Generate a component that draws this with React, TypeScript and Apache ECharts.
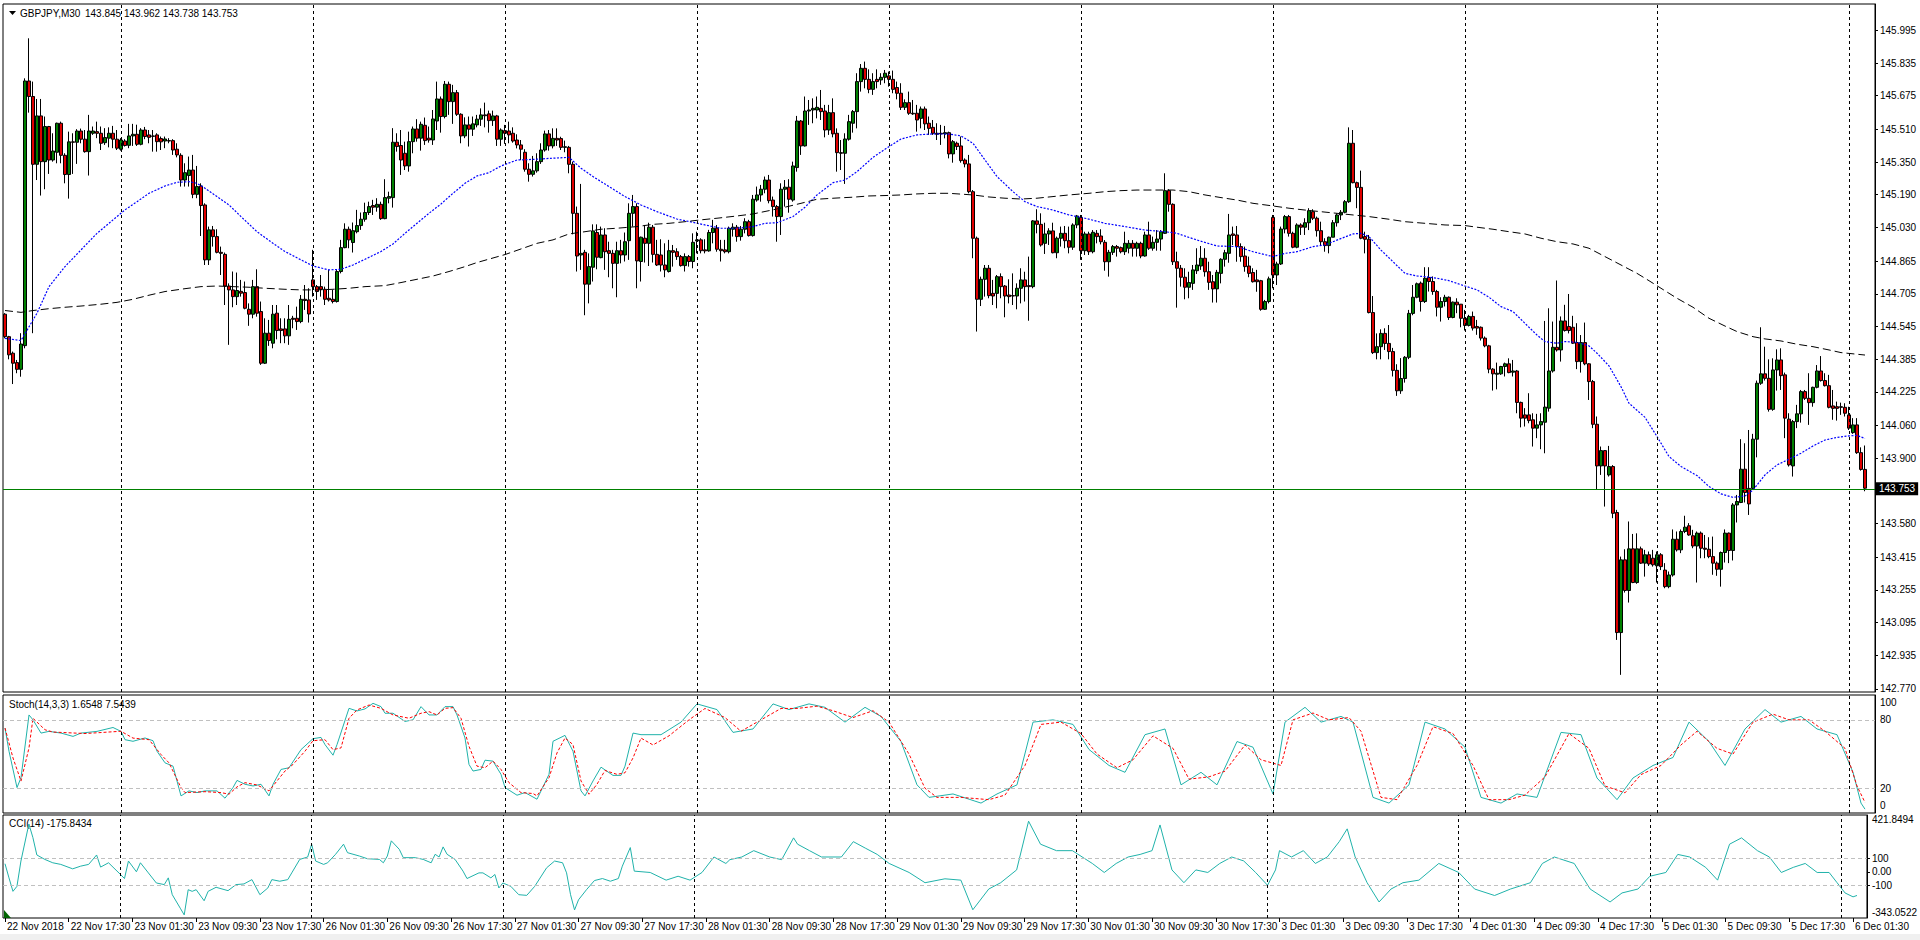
import React, { useEffect, useRef } from 'react';
import * as echarts from 'echarts';

// ---------- DATA ----------
const symbolName = 'GBPJPY,M30';
const stochName = 'Stoch(14,3,3)';
const cciName = 'CCI(14)';
const stochLast = [1.6548, 7.5439];
const cciLast = -175.8434;

// candles: [open, close, low, high]
const nov22 = [
[144.605,144.495,144.487,144.610],[144.495,144.406,144.384,144.499],[144.414,144.365,144.263,144.422],[144.368,144.335,144.316,144.381],
[144.335,144.459,144.299,144.512],[144.451,145.747,144.438,145.760],[145.747,145.671,145.592,145.956],[145.671,145.339,144.512,145.744],
[145.339,145.576,145.262,145.659],[145.576,145.352,145.186,145.659],[145.352,145.524,145.217,145.573],[145.524,145.360,145.292,145.527],
[145.360,145.404,145.352,145.491],[145.398,145.540,145.344,145.543],[145.540,145.383,145.344,145.548],[145.383,145.289,145.246,145.393],
[145.289,145.449,145.171,145.499],[145.449,145.447,145.292,145.491],[145.447,145.502,145.341,145.511],[145.502,145.462,145.442,145.514],
[145.462,145.401,145.396,145.507],[145.401,145.502,145.284,145.581],[145.491,145.502,145.483,145.524],[145.499,145.491,145.467,145.548],
[145.491,145.442,145.409,145.524],[145.445,145.470,145.434,145.516],[145.467,145.491,145.422,145.520],[145.491,145.462,145.418,145.527],
[145.462,145.418,145.409,145.507]];
const nov23 = [
[145.413,145.458,145.406,145.467],[145.453,145.431,145.426,145.462],[145.432,145.478,145.418,145.537],[145.478,145.486,145.429,145.537],
[145.486,145.437,145.429,145.533],[145.437,145.507,145.432,145.516],[145.507,145.475,145.462,145.522],[145.483,145.471,145.442,145.507],
[145.478,145.476,145.401,145.507],[145.483,145.450,145.401,145.491],[145.465,145.449,145.409,145.475],[145.453,145.463,145.418,145.475],
[145.455,145.453,145.442,145.467],[145.455,145.409,145.385,145.462],[145.413,145.385,145.373,145.442],[145.383,145.262,145.230,145.393],
[145.262,145.298,145.230,145.344],[145.284,145.311,145.230,145.377],[145.311,145.192,145.173,145.385],[145.192,145.230,145.173,145.331],
[145.233,145.137,144.988,145.246],[145.140,144.871,144.846,145.148],[144.871,145.018,144.846,145.034],[145.018,144.985,144.936,145.037],
[144.985,144.908,144.903,145.021],[144.908,144.903,144.797,144.936],[144.898,144.743,144.650,144.907],[144.743,144.724,144.455,144.756],
[144.724,144.691,144.639,144.814],[144.691,144.721,144.650,144.809],[144.717,144.708,144.691,144.773],[144.711,144.634,144.629,144.765],
[144.629,144.605,144.548,144.658],[144.605,144.740,144.585,144.773],[144.740,144.610,144.593,144.825],[144.618,144.365,144.357,144.667],
[144.365,144.512,144.361,144.585],[144.512,144.476,144.450,144.577],[144.463,144.605,144.438,144.650],[144.610,144.525,144.482,144.650],
[144.533,144.525,144.463,144.585],[144.533,144.499,144.463,144.585],[144.499,144.580,144.455,144.650],[144.585,144.580,144.536,144.597],
[144.585,144.569,144.528,144.642],[144.569,144.678,144.561,144.699],[144.678,144.672,144.626,144.748],[144.675,144.606,144.564,144.732]];
const nov26 = [
[144.773,144.740,144.691,144.920],[144.740,144.716,144.675,144.748],[144.740,144.727,144.691,144.797],[144.727,144.678,144.650,144.740],
[144.683,144.675,144.667,144.822],[144.678,144.667,144.658,144.724],[144.667,144.814,144.662,144.822],[144.814,144.931,144.805,144.969],
[144.931,145.021,144.928,145.050],[145.021,144.969,144.928,145.034],[144.956,145.014,144.907,145.054],[145.009,145.039,145.001,145.116],
[145.039,145.070,145.018,145.103],[145.070,145.103,145.058,145.151],[145.103,145.132,145.091,145.156],[145.137,145.129,145.091,145.165],
[145.129,145.143,145.107,145.173],[145.143,145.073,145.067,145.156],[145.073,145.176,145.070,145.266],[145.173,145.181,145.148,145.205],
[145.176,145.447,145.127,145.516],[145.447,145.426,145.401,145.491],[145.431,145.360,145.287,145.507],[145.393,145.331,145.311,145.450],
[145.331,145.450,145.303,145.499],[145.450,145.512,145.393,145.524],[145.512,145.467,145.450,145.560],[145.467,145.535,145.406,145.548],
[145.530,145.455,145.434,145.568],[145.467,145.458,145.445,145.524],[145.458,145.561,145.434,145.605],[145.551,145.659,145.507,145.744],
[145.659,145.573,145.494,145.671],[145.573,145.731,145.564,145.747],[145.731,145.646,145.581,145.744],[145.646,145.690,145.537,145.728],
[145.690,145.584,145.576,145.703],[145.584,145.478,145.442,145.589],[145.478,145.532,145.467,145.569],[145.532,145.511,145.426,145.573],
[145.511,145.537,145.478,145.573],[145.532,145.560,145.520,145.581],[145.560,145.581,145.527,145.613],[145.581,145.577,145.520,145.641],
[145.586,145.553,145.494,145.602],[145.553,145.576,145.527,145.602],[145.576,145.462,145.429,145.581],[145.462,145.507,145.429,145.515]];
const nov27 = [
[145.504,145.491,145.439,145.532],[145.502,145.483,145.442,145.548],[145.491,145.453,145.445,145.520],[145.458,145.434,145.417,145.486],
[145.434,145.413,145.360,145.458],[145.398,145.315,145.303,145.413],[145.315,145.290,145.254,145.344],[145.290,145.307,145.279,145.380],
[145.307,145.352,145.298,145.393],[145.352,145.409,145.341,145.442],[145.409,145.488,145.401,145.504],[145.488,145.429,145.406,145.507],
[145.429,145.466,145.417,145.515],[145.466,145.458,145.429,145.515],[145.465,145.422,145.409,145.474],[145.422,145.425,145.398,145.455],
[145.422,145.339,145.295,145.429],[145.339,145.099,144.996,145.352],[145.099,144.890,144.814,145.132],[144.895,144.903,144.822,145.243],
[144.908,144.752,144.600,144.920],[144.752,144.838,144.658,144.903],[144.835,145.013,144.765,145.045],[145.005,144.884,144.825,145.045],
[144.882,144.993,144.879,145.034],[144.993,144.911,144.822,145.026],[144.916,144.903,144.786,144.960],[144.903,144.854,144.732,144.920],
[144.854,144.916,144.688,144.960],[144.916,144.895,144.854,144.969],[144.895,144.960,144.863,145.005],[144.965,145.099,144.871,145.148],
[145.099,145.132,145.034,145.189],[145.132,144.866,144.732,145.148],[144.863,144.982,144.765,144.985],[144.977,144.952,144.858,145.042],
[144.952,145.031,144.841,145.053],[145.031,144.898,144.858,145.042],[144.898,144.846,144.841,144.969],[144.895,144.846,144.814,144.972],
[144.846,144.822,144.786,144.952],[144.814,144.916,144.809,144.969],[144.916,144.908,144.838,144.944],[144.911,144.887,144.871,144.928],
[144.887,144.843,144.838,144.895],[144.843,144.887,144.814,144.903],[144.887,144.863,144.838,144.895],[144.863,144.957,144.830,145.001]];
const nov28 = [
[144.964,144.969,144.903,145.009],[144.969,144.916,144.903,144.977],[144.920,144.915,144.903,144.972],[144.915,145.005,144.911,145.018],
[145.005,145.026,144.952,145.067],[145.026,144.923,144.911,145.042],[144.923,144.916,144.863,144.969],[144.920,144.911,144.903,144.969],
[144.911,145.026,144.903,145.034],[145.021,145.031,144.985,145.050],[145.031,144.985,144.960,145.042],[144.985,145.021,144.965,145.037],
[145.021,145.058,145.001,145.075],[145.058,144.990,144.985,145.067],[144.990,145.168,144.985,145.189],[145.164,145.189,145.156,145.230],
[145.189,145.217,145.156,145.238],[145.217,145.262,145.197,145.279],[145.262,145.161,145.148,145.287],[145.164,145.132,145.083,145.181],
[145.132,145.083,144.960,145.140],[145.083,145.217,144.993,145.246],[145.217,145.227,145.132,145.262],[145.227,145.168,145.102,145.266],
[145.164,145.331,145.156,145.352],[145.323,145.551,145.303,145.576],[145.551,145.429,145.385,145.556],[145.429,145.600,145.426,145.671],
[145.600,145.605,145.532,145.654],[145.605,145.613,145.540,145.662],[145.605,145.618,145.564,145.671],[145.613,145.597,145.556,145.703],
[145.600,145.507,145.471,145.630],[145.507,145.592,145.483,145.630],[145.592,145.488,145.471,145.662],[145.491,145.396,145.303,145.515],
[145.396,145.393,145.311,145.458],[145.393,145.463,145.243,145.491],[145.462,145.548,145.455,145.581],[145.540,145.597,145.494,145.605],
[145.597,145.744,145.515,145.785],[145.744,145.809,145.695,145.830],[145.809,145.755,145.711,145.842],[145.755,145.706,145.687,145.804],
[145.706,145.744,145.679,145.785],[145.755,145.744,145.711,145.804],[145.752,145.765,145.728,145.785],[145.765,145.785,145.736,145.801]];
const nov29 = [
[145.772,145.755,145.719,145.793],[145.755,145.706,145.687,145.798],[145.715,145.687,145.657,145.744],[145.687,145.618,145.605,145.736],
[145.618,145.641,145.605,145.657],[145.641,145.589,145.581,145.695],[145.589,145.586,145.581,145.654],[145.589,145.556,145.499,145.630],
[145.564,145.610,145.515,145.622],[145.610,145.537,145.507,145.622],[145.540,145.515,145.483,145.573],[145.520,145.491,145.483,145.556],
[145.491,145.486,145.458,145.540],[145.491,145.488,145.434,145.532],[145.488,145.494,145.466,145.527],[145.494,145.390,145.368,145.499],
[145.390,145.450,145.347,145.458],[145.442,145.426,145.409,145.450],[145.429,145.357,145.347,145.475],[145.360,145.341,145.324,145.368],
[145.341,145.205,145.197,145.385],[145.205,144.977,144.879,145.213],[144.977,144.678,144.520,144.985],[144.678,144.776,144.645,144.789],
[144.776,144.830,144.691,144.846],[144.830,144.696,144.683,144.846],[144.707,144.694,144.650,144.773],[144.707,144.789,144.634,144.797],
[144.789,144.740,144.683,144.805],[144.743,144.694,144.590,144.748],[144.699,144.691,144.658,144.776],[144.696,144.694,144.650,144.805],
[144.694,144.732,144.629,144.756],[144.732,144.773,144.658,144.830],[144.773,144.740,144.667,144.813],[144.745,144.740,144.573,144.887],
[144.740,145.062,144.732,145.066],[145.062,145.045,145.001,145.119],[145.045,144.944,144.936,145.099],[144.952,144.998,144.900,145.053],
[144.998,145.013,144.944,145.026],[145.013,144.906,144.903,145.053],[144.906,144.977,144.879,144.985],[144.977,145.001,144.936,145.034],
[145.001,144.965,144.928,145.037],[144.965,144.933,144.903,145.034],[144.933,145.042,144.920,145.050],[145.042,145.086,145.026,145.091]];
const nov30 = [
[145.079,144.916,144.871,145.091],[144.916,144.998,144.895,145.009],[144.998,144.911,144.895,145.009],[144.911,145.006,144.903,145.017],
[145.001,144.985,144.952,145.017],[144.988,144.960,144.947,145.021],[144.957,144.862,144.818,144.968],[144.862,144.908,144.789,144.920],
[144.908,144.936,144.895,144.944],[144.936,144.928,144.887,144.944],[144.931,144.911,144.903,144.936],[144.911,144.952,144.895,145.009],
[144.928,144.952,144.903,144.968],[144.952,144.928,144.887,144.968],[144.928,144.952,144.887,144.960],[144.952,144.890,144.879,144.960],
[144.890,144.993,144.887,145.009],[144.993,144.928,144.920,145.058],[144.928,144.957,144.916,144.985],[144.957,144.973,144.916,145.017],
[144.973,145.009,144.916,145.017],[145.001,145.210,144.998,145.295],[145.210,145.143,145.107,145.217],[145.143,144.862,144.846,145.148],
[144.862,144.830,144.637,144.911],[144.830,144.786,144.740,144.846],[144.786,144.737,144.678,144.830],[144.737,144.760,144.683,144.813],
[144.756,144.822,144.724,144.846],[144.818,144.846,144.802,144.928],[144.841,144.879,144.822,144.939],[144.879,144.813,144.789,144.928],
[144.813,144.761,144.724,144.862],[144.764,144.729,144.662,144.797],[144.729,144.810,144.662,144.822],[144.805,144.874,144.756,144.879],
[144.874,144.906,144.838,144.920],[144.903,144.993,144.857,145.096],[144.998,144.991,144.944,145.034],[144.993,144.936,144.862,145.037],
[144.936,144.887,144.862,144.952],[144.890,144.838,144.813,144.936],[144.841,144.805,144.786,144.887],[144.809,144.764,144.760,144.830],
[144.773,144.764,144.715,144.822],[144.769,144.629,144.622,144.773],[144.629,144.667,144.626,144.675],[144.667,144.778,144.658,144.789]];
const dec03 = [
[145.079,144.797,144.732,145.091],[144.797,144.851,144.748,144.862],[144.851,145.022,144.846,145.034],[145.022,145.083,145.001,145.091],
[145.083,145.001,144.985,145.091],[145.001,144.933,144.928,145.009],[144.933,145.042,144.928,145.050],[145.042,145.031,144.993,145.050],
[145.031,145.053,144.993,145.075],[145.053,145.112,145.017,145.124],[145.107,145.075,145.066,145.119],[145.075,145.014,144.985,145.083],
[145.014,144.960,144.939,145.058],[144.960,144.941,144.911,144.977],[144.941,144.982,144.903,144.985],[144.982,145.053,144.982,145.066],
[145.053,145.091,145.034,145.099],[145.091,145.104,145.066,145.115],[145.104,145.156,145.099,145.164],[145.156,145.442,145.150,145.520],
[145.442,145.249,145.246,145.507],[145.249,145.226,145.124,145.254],[145.226,144.977,144.972,145.308],[144.985,144.972,144.903,145.009],
[144.972,144.613,144.609,144.993],[144.613,144.417,144.410,144.694],[144.417,144.446,144.384,144.511],[144.446,144.511,144.384,144.531],
[144.511,144.462,144.430,144.536],[144.462,144.422,144.384,144.552],[144.422,144.330,144.300,144.440],[144.330,144.230,144.205,144.360],
[144.230,144.290,144.215,144.390],[144.290,144.394,144.270,144.400],[144.394,144.609,144.385,144.626],[144.609,144.688,144.600,144.748],
[144.688,144.754,144.683,144.760],[144.757,144.667,144.618,144.765],[144.667,144.781,144.660,144.835],[144.785,144.765,144.716,144.835],
[144.765,144.716,144.700,144.790],[144.716,144.639,144.594,144.724],[144.639,144.667,144.569,144.688],[144.667,144.688,144.643,144.700],
[144.688,144.589,144.577,144.692],[144.589,144.664,144.585,144.667],[144.664,144.651,144.610,144.683],[144.654,144.585,144.541,144.655]];
const dec04 = [
[144.585,144.550,144.525,144.626],[144.550,144.594,144.545,144.602],[144.594,144.537,144.525,144.618],[144.545,144.537,144.504,144.577],
[144.541,144.488,144.476,144.545],[144.488,144.450,144.443,144.496],[144.450,144.336,144.316,144.455],[144.336,144.313,144.231,144.341],
[144.311,144.316,144.237,144.368],[144.313,144.349,144.308,144.352],[144.349,144.362,144.300,144.368],[144.362,144.319,144.316,144.389],
[144.321,144.327,144.300,144.381],[144.327,144.173,144.120,144.332],[144.173,144.096,144.051,144.177],[144.112,144.096,144.055,144.145],
[144.112,144.084,144.071,144.218],[144.088,144.047,143.957,144.120],[144.047,144.063,143.998,144.117],[144.063,144.079,143.944,144.120],
[144.076,144.150,143.924,144.572],[144.145,144.327,144.128,144.634],[144.327,144.443,144.319,144.569],[144.443,144.430,144.422,144.770],
[144.430,144.572,144.373,144.594],[144.572,144.525,144.520,144.651],[144.545,144.525,144.511,144.704],[144.541,144.463,144.459,144.597],
[144.466,144.373,144.336,144.561],[144.373,144.466,144.319,144.503],[144.466,144.362,144.355,144.564],[144.362,144.275,144.185,144.365],
[144.275,144.066,144.047,144.283],[144.066,143.862,143.748,144.104],[143.862,143.937,143.818,143.957],[143.937,143.862,143.663,143.940],
[143.818,143.859,143.810,143.960],[143.859,143.630,143.606,143.866],[143.634,143.046,143.010,143.647],[143.046,143.402,142.839,143.418],
[143.402,143.252,143.242,143.454],[143.252,143.456,143.193,143.590],[143.456,143.291,143.288,143.529],[143.291,143.456,143.285,143.532],
[143.456,143.386,143.382,143.467],[143.386,143.427,143.320,143.451],[143.427,143.382,143.372,143.443],[143.410,143.378,143.369,143.451]];
const dec05 = [
[143.373,143.427,143.291,143.443],[143.427,143.369,143.352,143.435],[143.352,143.271,143.263,143.386],[143.271,143.328,143.263,143.345],
[143.328,143.503,143.320,143.551],[143.503,143.451,143.443,143.541],[143.451,143.541,143.435,143.551],[143.541,143.562,143.533,143.618],
[143.569,143.524,143.520,143.582],[143.520,143.470,143.459,143.549],[143.470,143.533,143.291,143.541],[143.533,143.459,143.410,143.541],
[143.459,143.454,143.410,143.524],[143.454,143.418,143.410,143.513],[143.418,143.386,143.329,143.516],[143.386,143.356,143.324,143.394],
[143.356,143.438,143.271,143.443],[143.438,143.533,143.389,143.551],[143.533,143.448,143.386,143.536],[143.448,143.671,143.399,143.680],
[143.671,143.688,143.585,143.720],[143.683,143.846,143.680,143.993],[143.846,143.732,143.683,143.973],[143.752,143.676,143.622,144.038],
[143.752,143.993,143.747,144.019],[143.993,144.267,143.904,144.280],[144.267,144.313,144.259,144.541],[144.313,144.291,144.280,144.446],
[144.291,144.139,144.128,144.384],[144.139,144.332,144.132,144.389],[144.332,144.381,144.231,144.433],[144.381,144.304,144.234,144.438],
[144.308,144.096,143.998,144.319],[144.091,143.867,143.859,144.120],[143.862,144.079,143.810,144.087],[144.079,144.117,144.047,144.161],
[144.117,144.226,144.074,144.234],[144.226,144.193,144.185,144.234],[144.193,144.172,144.063,144.316],[144.172,144.247,144.152,144.250],
[144.247,144.327,144.242,144.356],[144.327,144.280,144.275,144.400],[144.280,144.255,144.251,144.316],[144.255,144.149,144.144,144.308],
[144.156,144.144,144.088,144.234],[144.152,144.144,144.084,144.177],[144.152,144.149,144.112,144.172],[144.149,144.120,144.104,144.169]];
const dec06 = [
[144.112,144.047,144.038,144.152],[144.025,144.063,144.019,144.096],[144.063,143.927,143.921,144.096],[143.927,143.845,143.839,143.953],
[143.845,143.753,143.738,143.962]];

// moving averages: [bar index, value]
const maFastPts = [
[0,144.487],[4,144.476],[8,144.610],[11,144.740],[15,144.838],[19,144.920],[23,145.001],[27,145.067],[30,145.116],[33,145.156],[36,145.197],
[40,145.233],[43,145.251],[46,145.254],[48,145.246],[50,145.222],[53,145.181],[56,145.140],[59,145.083],[63,145.009],[67,144.952],[70,144.912],
[74,144.871],[77,144.841],[81,144.822],[84,144.825],[87,144.846],[90,144.874],[94,144.912],[97,144.949],[100,145.001],[103,145.050],[106,145.099],
[109,145.145],[112,145.197],[115,145.246],[118,145.282],[121,145.298],[124,145.331],[128,145.360],[133,145.364],[137,145.369],[141,145.373],
[144,145.320],[147,145.279],[151,145.230],[155,145.181],[159,145.140],[163,145.107],[168,145.071],[172,145.055],[175,145.042],[179,145.026],
[183,145.026],[187,145.034],[190,145.050],[193,145.053],[197,145.083],[200,145.129],[203,145.189],[207,145.249],[210,145.262],[213,145.303],
[217,145.373],[220,145.413],[224,145.463],[228,145.483],[232,145.488],[236,145.487],[239,145.478],[242,145.442],[245,145.360],[248,145.279],
[252,145.205],[255,145.156],[258,145.132],[262,145.115],[266,145.091],[270,145.075],[275,145.050],[280,145.034],[285,145.017],[290,145.009],
[293,145.001],[298,144.968],[303,144.939],[308,144.936],[312,144.911],[317,144.887],[320,144.903],[323,144.911],[327,144.936],[330,144.944],
[333,144.968],[337,144.998],[339,145.001],[341,144.985],[344,144.919],[347,144.862],[350,144.805],[353,144.792],[355,144.789],[358,144.781],
[361,144.769],[365,144.743],[368,144.724],[371,144.688],[374,144.642],[377,144.618],[380,144.560],[383,144.503],[385,144.471],[388,144.463],
[390,144.471],[393,144.467],[396,144.450],[398,144.414],[401,144.352],[404,144.250],[406,144.169],[410,144.100],[413,144.006],[416,143.908],
[419,143.859],[423,143.815],[426,143.761],[429,143.725],[432,143.708],[435,143.715],[437,143.744],[440,143.818],[443,143.867],[446,143.895],
[449,143.924],[452,143.960],[455,143.989],[458,144.002],[461,144.009],[463,144.012],[465,143.996]];
const maSlowPts = [
[0,144.623],[4,144.614],[7,144.623],[11,144.632],[15,144.639],[19,144.645],[24,144.654],[28,144.663],[32,144.678],[36,144.698],[40,144.716],
[45,144.730],[49,144.740],[53,144.743],[57,144.740],[61,144.737],[65,144.732],[70,144.727],[74,144.724],[78,144.724],[82,144.727],[86,144.732],
[90,144.740],[95,144.745],[99,144.760],[103,144.776],[107,144.792],[111,144.814],[115,144.838],[118,144.858],[125,144.897],[133,144.952],
[137,144.969],[141,144.998],[145,145.009],[149,145.021],[153,145.026],[158,145.034],[162,145.045],[166,145.050],[170,145.058],[174,145.067],
[178,145.075],[183,145.086],[187,145.096],[191,145.112],[195,145.129],[199,145.148],[203,145.168],[208,145.174],[212,145.178],[216,145.184],
[220,145.186],[224,145.189],[228,145.194],[232,145.197],[236,145.197],[242,145.189],[246,145.179],[250,145.173],[254,145.169],[258,145.173],
[262,145.181],[266,145.189],[271,145.197],[275,145.205],[279,145.210],[283,145.213],[287,145.213],[292,145.213],[296,145.205],[300,145.189],
[304,145.176],[308,145.164],[312,145.148],[317,145.135],[321,145.124],[325,145.115],[329,145.107],[333,145.099],[337,145.091],[341,145.083],
[346,145.070],[350,145.058],[355,145.050],[360,145.042],[365,145.039],[368,145.031],[372,145.021],[376,145.009],[380,144.998],[384,144.977],
[388,144.960],[392,144.949],[396,144.928],[400,144.887],[404,144.846],[408,144.805],[411,144.769],[414,144.732],[418,144.683],[422,144.639],
[426,144.585],[430,144.547],[433,144.520],[437,144.495],[440,144.484],[444,144.474],[448,144.458],[452,144.446],[456,144.430],[459,144.417],
[463,144.409],[465,144.405]];

// stochastic %K, %D and CCI: [bar index, value]
const stochMainPts = [
[0,72.8],[1,52.5],[3,20.6],[4,29.3],[6,84.3],[7,80],[9,68.4],[11,69.9],[14,68.4],[17,65.5],[19,68.4],[23,69.9],[27,73.3],[29,69.9],[30,62.6],
[32,61.2],[35,64.1],[37,61.7],[38,52.5],[40,42.3],[42,39.4],[44,13.3],[46,17.7],[48,16.2],[50,17.7],[52,17.7],[53,17.7],[55,11.3],[57,20.6],
[58,26.9],[60,23.5],[62,22],[64,23.5],[66,13.3],[67,23.5],[69,36.5],[71,38],[74,53.9],[77,63.5],[79,64.6],[80,58.3],[82,49],[83,58.3],[86,90.1],
[88,87.8],[90,89.6],[92,94.5],[94,91.6],[95,85.8],[97,85.8],[100,78.6],[102,80],[104,91.6],[106,84.3],[108,84.3],[110,91.6],[112,91.6],[113,84.3],
[115,64.1],[116,40.9],[117,35.1],[119,36.5],[120,44.6],[122,43.8],[124,32.2],[125,20.6],[128,13.9],[130,16.2],[133,10.4],[136,32.2],[137,61.2],
[140,66.4],[142,52.5],[144,17.7],[145,13.3],[147,26.4],[149,38.5],[152,31.3],[154,31.3],[155,39.4],[157,68.4],[159,67],[164,67],[169,78],
[173,94],[178,89],[182,69],[187,72],[192,94],[196,89],[201,94],[205,91],[210,78],[215,91],[219,83],[224,61],[228,23],[231,12],[237,15],[244,7],
[248,15],[253,23],[257,78],[262,80],[267,76],[271,54],[276,40],[280,34],[285,67],[290,72],[294,23],[299,34],[303,23],[308,61],[312,56],[317,15],
[320,78],[325,91],[329,78],[334,83],[337,78],[342,12],[346,7],[351,23],[355,78],[360,72],[365,56],[369,12],[374,7],[378,15],[383,12],[389,69],
[394,67],[398,29],[403,10],[407,29],[412,40],[417,47],[421,78],[426,61],[430,40],[435,72],[440,89],[444,78],[449,83],[453,72],[458,67],[462,34],
[464,7],[465,1.6548]];
const stochSignalPts = [
[0,72.8],[2,46.6],[4,26.3],[6,55.4],[7,81.4],[10,71.3],[12,69.3],[20,68],[29,70],[32,64],[36,62.6],[39,49.6],[41,42.3],[44,20.6],[45,16.2],
[50,17],[54,16.2],[56,14.8],[58,21.2],[60,24.9],[63,22.9],[66,17.7],[68,26.4],[70,35.1],[72,40.9],[75,52.5],[77,61.7],[80,62.6],[82,53.9],
[84,55.4],[86,81.4],[88,88.7],[91,93],[94,90.1],[97,84.3],[101,81.4],[104,85.8],[106,87.2],[108,84.3],[110,90.1],[112,90.7],[114,81.4],[116,56.8],
[118,39.4],[120,38],[122,43.8],[124,36.5],[126,24.9],[129,16.2],[132,15.4],[133,13.3],[136,29.3],[138,51],[140,64.1],[142,58.3],[144,26.4],
[146,14.8],[148,23.5],[150,35.6],[153,32.2],[155,33.6],[157,46.6],[159,64],[162,58],[166,66],[171,80],[175,90],[180,82],[184,70],[189,80],
[194,90],[198,90],[203,92],[207,88],[212,82],[217,88],[221,78],[226,50],[230,20],[233,12],[239,12],[246,10],[250,14],[255,40],[259,76],[264,78],
[269,68],[273,50],[278,38],[282,45],[287,66],[292,55],[296,28],[301,30],[305,35],[310,58],[314,45],[319,40],[322,80],[327,86],[331,80],[336,82],
[339,70],[344,12],[348,10],[353,40],[357,74],[362,68],[367,40],[371,10],[376,10],[380,14],[385,30],[391,68],[396,55],[400,22],[405,16],[409,32],
[414,40],[419,58],[423,70],[428,55],[432,50],[437,78],[442,85],[446,80],[451,80],[455,70],[460,55],[463,22],[465,7.5439]];
const cciPts = [
[0,60],[1,-45],[2,-145],[3,-108],[4,80],[6,355],[7,255],[8,125],[10,92],[12,67],[14,55],[17,22],[19,42],[21,55],[23,125],[24,35],[26,67],[29,-20],
[30,-50],[31,80],[33,0],[34,67],[36,-8],[38,-83],[40,-95],[41,-45],[42,-170],[44,-270],[45,-320],[46,-133],[47,-145],[48,-133],[50,-215],[51,-145],
[53,-115],[56,-140],[58,-95],[60,-90],[62,-58],[64,-170],[66,-120],[67,-58],[69,-70],[71,-58],[72,-8],[74,92],[76,110],[77,205],[78,80],[80,55],
[81,67],[83,130],[85,205],[86,142],[89,117],[91,97],[94,92],[95,67],[96,117],[97,230],[99,167],[100,105],[103,105],[105,92],[107,67],[108,130],
[109,110],[110,185],[111,130],[113,92],[115,5],[116,-50],[119,-8],[120,-8],[122,-45],[123,-20],[124,-120],[125,-83],[127,-108],[129,-170],[131,-175],
[133,-108],[136,30],[138,80],[140,67],[141,-8],[142,-170],[143,-283],[144,-208],[146,-133],[148,-65],[150,-50],[152,-70],[154,-50],[155,42],[157,180],
[158,5],[162,-5],[166,-62],[169,-33],[172,-62],[175,-5],[178,110],[181,62],[182,90],[185,110],[188,157],[192,110],[195,90],[198,252],[199,205],
[202,157],[205,110],[210,110],[213,224],[216,176],[219,129],[222,62],[227,-5],[231,-81],[236,-52],[240,-62],[243,-282],[247,-128],[250,-81],
[254,14],[257,376],[260,205],[264,157],[268,157],[273,62],[276,-5],[279,62],[282,110],[285,129],[288,157],[290,348],[293,14],[296,-81],[299,14],
[302,-5],[305,62],[308,110],[311,81],[314,-5],[317,-100],[319,14],[320,157],[323,110],[326,157],[329,62],[332,110],[335,224],[337,319],[339,110],
[342,-81],[345,-224],[348,-128],[351,-81],[355,-62],[360,62],[365,-5],[369,-128],[374,-176],[378,-128],[383,-81],[386,62],[389,110],[394,62],
[398,-128],[403,-224],[406,-157],[410,-128],[413,-33],[417,-5],[420,129],[423,110],[427,33],[430,-62],[433,205],[436,252],[440,157],[443,110],
[446,-5],[449,33],[452,62],[455,-5],[458,-5],[460,-81],[462,-157],[464,-186],[465,-175.8434]];

const priceTicks = [145.995,145.835,145.675,145.510,145.350,145.190,145.030,144.865,144.705,144.545,144.385,144.225,144.060,143.900,143.740,143.580,143.415,143.255,143.095,142.935,142.770];
const stochTicks = [0, 20, 80, 100];
const stochLevels = [20, 80];
const cciTicks = [-343.0522, -100, 0, 100, 421.8494];
const cciLevels = [-100, 100];
const xTickLabels = ['22 Nov 2018','22 Nov 17:30','23 Nov 01:30','23 Nov 09:30','23 Nov 17:30','26 Nov 01:30','26 Nov 09:30','26 Nov 17:30',
'27 Nov 01:30','27 Nov 09:30','27 Nov 17:30','28 Nov 01:30','28 Nov 09:30','28 Nov 17:30','29 Nov 01:30','29 Nov 09:30','29 Nov 17:30',
'30 Nov 01:30','30 Nov 09:30','30 Nov 17:30','3 Dec 01:30','3 Dec 09:30','3 Dec 17:30','4 Dec 01:30','4 Dec 09:30','4 Dec 17:30',
'5 Dec 01:30','5 Dec 09:30','5 Dec 17:30','6 Dec 01:30'];
const labelEvery = 16;
const daySeparators = [29, 77, 125, 173, 221, 269, 317, 365, 413, 461];
const extraSlots = 2;

// ---------- CHART ----------
const FONT = 'Liberation Sans, Arial, sans-serif';

export default function App() {
  const ref = useRef<HTMLDivElement>(null);
  useEffect(() => {
    if (!ref.current) return;
    const chart = echarts.init(ref.current, null, { renderer: 'svg' });
    const candles = [...nov22, ...nov23, ...nov26, ...nov27, ...nov28, ...nov29, ...nov30, ...dec03, ...dec04, ...dec05, ...dec06];
    const n = candles.length + extraSlots;
    const cats = Array.from({ length: n }, (_, i) => String(i));
    const sparse = (pts: number[][]) => {
      const a: (number | null)[] = new Array(n).fill(null);
      pts.forEach(([i, v]) => { a[i] = v; });
      return a;
    };
    const last = candles[candles.length - 1];
    const lastClose = last[1];
    const sepLines = daySeparators.map((i) => ({ xAxis: i, lineStyle: { color: '#000', type: [3, 3], width: 1 } }));
    const labelFn = (i: number) => i % labelEvery === 0 && i < candles.length;

    const gridBase = { left: 3, width: 1872, show: true, borderColor: '#000', borderWidth: 1 };
    const xBase = (g: number) => ({
      type: 'category', gridIndex: g, data: cats, boundaryGap: true, position: 'bottom',
      axisLine: { show: false, onZero: false },
      splitLine: { show: false },
      axisTick: g === 2 ? { show: true, interval: labelFn, alignWithLabel: true, length: 4, lineStyle: { color: '#000' } } : { show: false },
      axisLabel: g === 2 ? {
        show: true, interval: labelFn, align: 'left', margin: 3, fontSize: 10, color: '#000', fontFamily: FONT,
        padding: [0, 0, 0, 2],
        formatter: (_v: string, idx: number) => xTickLabels[Math.round(idx / labelEvery)] || '',
      } : { show: false },
    });
    const yLabel = { color: '#000', fontSize: 10, fontFamily: FONT, margin: 5 };

    const option: any = {
      animation: false,
      backgroundColor: '#ffffff',
      textStyle: { fontFamily: FONT },
      grid: [
        { ...gridBase, top: 4, height: 688 },
        { ...gridBase, top: 695, height: 118 },
        { ...gridBase, top: 815, height: 103 },
      ],
      xAxis: [xBase(0), xBase(1), xBase(2)],
      yAxis: [
        {
          type: 'value', gridIndex: 0, position: 'right', min: 142.755, max: 146.124,
          splitLine: { show: false }, axisLine: { show: true, lineStyle: { color: '#000' } },
          axisTick: { show: true, customValues: priceTicks, length: 3, lineStyle: { color: '#000' } },
          axisLabel: { ...yLabel, customValues: priceTicks, formatter: (v: number) => v.toFixed(3) },
        },
        {
          type: 'value', gridIndex: 1, position: 'right', min: -1.7, max: 101.8,
          splitLine: { show: false }, axisLine: { show: true, lineStyle: { color: '#000' } },
          axisTick: { show: false },
          axisLabel: {
            ...yLabel, customValues: stochTicks,
            formatter: (v: number) => (v === 100 ? '{t|100}' : v === 0 ? '{b|0}' : String(v)),
            rich: { t: { fontSize: 10, color: '#000', padding: [11, 0, 0, 0] }, b: { fontSize: 10, color: '#000', padding: [0, 0, 12, 0] } },
          },
        },
        {
          type: 'value', gridIndex: 2, position: 'right', min: cciTicks[0], max: cciTicks[cciTicks.length - 1],
          splitLine: { show: false }, axisLine: { show: true, lineStyle: { color: '#000' } },
          axisTick: { show: true, customValues: [-100, 0, 100], length: 3, lineStyle: { color: '#000' } },
          axisLabel: {
            ...yLabel, customValues: cciTicks,
            formatter: (v: number) => {
              if (v === cciTicks[cciTicks.length - 1]) return '{t|' + v.toFixed(4) + '}';
              if (v === cciTicks[0]) return '{b|' + v.toFixed(4) + '}';
              return v === 0 ? '0.00' : String(v);
            },
            rich: { t: { fontSize: 10, color: '#000', padding: [8, 0, 0, 0] }, b: { fontSize: 10, color: '#000', padding: [0, 0, 11, 0] } },
          },
        },
      ],
      series: [
        {
          type: 'candlestick', xAxisIndex: 0, yAxisIndex: 0, data: candles, barWidth: 3,
          itemStyle: { color: '#008000', color0: '#e00000', borderColor: '#000', borderColor0: '#000', borderWidth: 1 },
          markLine: {
            silent: true, symbol: ['none', 'none'], animation: false, label: { show: false },
            data: [
              ...sepLines,
              {
                yAxis: lastClose, lineStyle: { color: '#008000', type: 'solid', width: 1 },
                label: { show: true, position: 'end', formatter: lastClose.toFixed(3), backgroundColor: '#000', color: '#fff',
                  padding: [2, 3, 1, 3], distance: 1, fontSize: 10, fontFamily: FONT },
              },
            ],
          },
          z: 3,
        },
        {
          type: 'line', xAxisIndex: 0, yAxisIndex: 0, data: sparse(maFastPts), connectNulls: true, showSymbol: false,
          lineStyle: { color: '#0000ff', width: 1.2, type: [2, 1.5] }, z: 4,
        },
        {
          type: 'line', xAxisIndex: 0, yAxisIndex: 0, data: sparse(maSlowPts), connectNulls: true, showSymbol: false,
          lineStyle: { color: '#000', width: 1, type: [8, 4] }, z: 4,
        },
        {
          type: 'line', xAxisIndex: 1, yAxisIndex: 1, data: sparse(stochMainPts), connectNulls: true, showSymbol: false,
          lineStyle: { color: '#20b2aa', width: 1 }, z: 4,
          markLine: {
            silent: true, symbol: ['none', 'none'], label: { show: false },
            data: [
              ...stochLevels.map((v) => ({ yAxis: v, lineStyle: { color: '#c0c0c0', type: [4, 3], width: 1 } })),
              ...sepLines,
            ],
          },
        },
        {
          type: 'line', xAxisIndex: 1, yAxisIndex: 1, data: sparse(stochSignalPts), connectNulls: true, showSymbol: false,
          lineStyle: { color: '#ff0000', width: 1, type: [3, 2] }, z: 4,
        },
        {
          type: 'line', xAxisIndex: 2, yAxisIndex: 2, data: sparse(cciPts), connectNulls: true, showSymbol: false,
          lineStyle: { color: '#20b2aa', width: 1 }, z: 4,
          markLine: {
            silent: true, symbol: ['none', 'none'], label: { show: false },
            data: [
              ...cciLevels.map((v) => ({ yAxis: v, lineStyle: { color: '#c0c0c0', type: [4, 3], width: 1 } })),
              ...sepLines,
            ],
          },
        },
      ],
      graphic: [
        { type: 'rect', shape: { x: 0, y: 934, width: 1920, height: 6 }, style: { fill: '#f0f0f0' }, silent: true },
        { type: 'polygon', shape: { points: [[9, 11], [16, 11], [12.5, 15]] }, style: { fill: '#000' }, silent: true },
        { type: 'text', x: 20, y: 13, style: { text: symbolName, fill: '#000', font: '10px ' + FONT, verticalAlign: 'middle' }, silent: true },
        { type: 'text', x: 85, y: 13, style: { text: [last[0], last[3], last[2], last[1]].map((v) => v.toFixed(3)).join(' '), fill: '#000', font: '10px ' + FONT, verticalAlign: 'middle' }, silent: true },
        { type: 'text', x: 9, y: 704, style: { text: stochName + ' ' + stochLast[0].toFixed(4) + ' ' + stochLast[1].toFixed(4), fill: '#000', font: '10px ' + FONT, verticalAlign: 'middle' }, silent: true },
        { type: 'text', x: 9, y: 823, style: { text: cciName + ' ' + cciLast.toFixed(4), fill: '#000', font: '10px ' + FONT, verticalAlign: 'middle' }, silent: true },
        { type: 'polygon', shape: { points: [[4, 910], [4, 918], [11, 918]] }, style: { fill: '#006400' }, silent: true },
      ],
    };
    chart.setOption(option);
    return () => chart.dispose();
  }, []);
  return <div ref={ref} style={{ position: 'fixed', left: 0, top: 0, width: 1920, height: 940, background: '#fff' }} />;
}
